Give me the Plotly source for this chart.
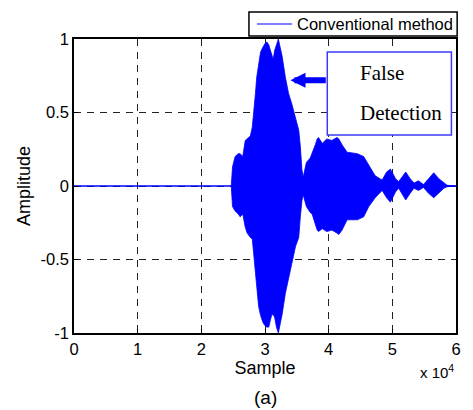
import plotly.graph_objects as go

# Envelope of the signal (sample index, upper / lower amplitude)
samples = [24700, 24900, 25300, 25800, 26100, 26500, 26900, 27200, 27700, 28000,
           28200, 28500, 28700, 29000, 29300, 29500, 29700, 30000, 30300, 30600,
           30800, 31100, 31300, 31500, 31800, 32100, 32400, 32700, 33200, 33700,
           34200, 34800, 35300, 35550, 35800, 36000, 36500, 37100, 37400, 37900,
           38200, 38400, 39000, 39700, 40500, 41300, 41600, 42100, 42900, 44500,
           45500, 46300, 47300, 48400, 49100, 49700, 50500, 51000, 52100, 52800,
           53400, 54100, 54900, 55700, 56500, 57300, 58100, 58600, 59900]
upper = [0.0, 0.13, 0.20, 0.22, 0.22, 0.20, 0.31, 0.32, 0.34, 0.40,
         0.52, 0.63, 0.74, 0.83, 0.91, 0.93, 0.95, 0.97, 0.98, 0.96,
         0.93, 0.89, 0.86, 0.92, 0.96, 1.00, 0.94, 0.88, 0.74, 0.63,
         0.56, 0.47, 0.38, 0.27, 0.11, 0.06, 0.16, 0.19, 0.22, 0.28,
         0.32, 0.33, 0.29, 0.32, 0.31, 0.33, 0.32, 0.28, 0.23, 0.22,
         0.20, 0.14, 0.07, 0.04, 0.095, 0.115, 0.05, 0.03, 0.095, 0.05,
         0.02, 0.035, 0.01, 0.05, 0.09, 0.05, 0.02, 0.005, 0.0]
lower = [0.0, -0.14, -0.17, -0.19, -0.21, -0.19, -0.28, -0.32, -0.35, -0.36,
         -0.45, -0.59, -0.70, -0.82, -0.88, -0.91, -0.93, -0.95, -0.96, -0.96,
         -0.92, -0.87, -0.88, -0.89, -0.96, -1.00, -0.93, -0.87, -0.73, -0.64,
         -0.53, -0.41, -0.35, -0.21, -0.10, -0.06, -0.14, -0.18, -0.19, -0.26,
         -0.30, -0.31, -0.29, -0.31, -0.30, -0.32, -0.33, -0.30, -0.23, -0.23,
         -0.21, -0.14, -0.08, -0.03, -0.08, -0.11, -0.04, -0.015, -0.095, -0.05,
         -0.015, -0.03, -0.01, -0.05, -0.08, -0.05, -0.015, -0.005, 0.0]

baseline_x = [0, 60000]
baseline_y = [0, 0]

x_tickvals = [0, 10000, 20000, 30000, 40000, 50000, 60000]
x_ticktext = ["0", "1", "2", "3", "4", "5", "6"]
y_tickvals = [-1, -0.5, 0, 0.5, 1]
y_ticktext = ["-1", "-0.5", "0", "0.5", "1"]

series_name = "Conventional method"
BLUE = "#0000ff"
FONT = "Liberation Sans, Arial, sans-serif"

fig = go.Figure()
fig.add_trace(go.Scatter(
    x=samples + samples[::-1], y=upper + lower[::-1],
    fill="toself", fillcolor=BLUE, mode="lines",
    line=dict(color=BLUE, width=0.8), showlegend=False, hoverinfo="skip"))
fig.add_trace(go.Scatter(
    x=baseline_x, y=baseline_y, mode="lines", name=series_name,
    line=dict(color=BLUE, width=1.5), showlegend=False))

fig.update_layout(
    width=473, height=410,
    margin=dict(l=74, r=17, t=39, b=77),
    paper_bgcolor="white", plot_bgcolor="white",
    font=dict(family=FONT, size=16, color="black"),
    showlegend=False,
)
fig.update_xaxes(
    range=[0, 60000], tickvals=x_tickvals, ticktext=x_ticktext,
    showgrid=True, gridcolor="#222", griddash="7px,6px", gridwidth=1,
    showline=True, linecolor="black", linewidth=1.5, mirror=True,
    ticks="inside", ticklen=4, tickcolor="black",
    zeroline=False, tickfont=dict(size=16.5),
    title=dict(text="Sample", font=dict(size=18), standoff=4))
fig.update_yaxes(
    range=[-1, 1], tickvals=y_tickvals, ticktext=y_ticktext,
    showgrid=True, gridcolor="#222", griddash="7px,6px", gridwidth=1,
    showline=True, linecolor="black", linewidth=1.5, mirror=True,
    ticks="inside", ticklen=4, tickcolor="black",
    zeroline=False, tickfont=dict(size=16.5),
    title=dict(text="Amplitude", font=dict(size=18), standoff=5))

# Legend box (drawn above the plot, compact like the original)
fig.add_shape(type="rect", xref="paper", yref="paper",
              x0=0.458, x1=1.003, y0=1.010, y1=1.092,
              line=dict(color="black", width=1.5), fillcolor="white", layer="above")
fig.add_shape(type="line", xref="paper", yref="paper",
              x0=0.479, x1=0.571, y0=1.051, y1=1.051,
              line=dict(color=BLUE, width=1.2), layer="above")
fig.add_annotation(x=0.5785, y=1.051, xref="paper", yref="paper", text=series_name,
                   showarrow=False, xanchor="left", yanchor="middle",
                   font=dict(family=FONT, size=16.5, color="black"))

# Box with "False Detection"
fig.add_shape(type="rect", xref="x", yref="y",
              x0=39780, x1=59280, y0=0.347, y1=0.912,
              line=dict(color="#3a3aff", width=1.5), fillcolor="white", layer="above")
fig.add_annotation(x=44650, y=0.769, xref="x", yref="y", text="False",
                   showarrow=False, xanchor="left", yanchor="middle",
                   font=dict(family="Liberation Serif, Times New Roman, serif", size=21, color="black"))
fig.add_annotation(x=44650, y=0.497, xref="x", yref="y", text="Detection",
                   showarrow=False, xanchor="left", yanchor="middle",
                   font=dict(family="Liberation Serif, Times New Roman, serif", size=21, color="black"))
# Arrow pointing at the waveform
fig.add_annotation(x=34000, y=0.72, ax=39780, ay=0.72, xref="x", yref="y",
                   axref="x", ayref="y", text="", showarrow=True,
                   arrowhead=2, arrowsize=0.5, arrowwidth=6, arrowcolor=BLUE, standoff=0)
# x 10^4 multiplier
fig.add_annotation(x=1.0, y=-0.13, xref="paper", yref="paper", text="x 10<sup>4</sup>",
                   showarrow=False, xanchor="right", yanchor="middle",
                   font=dict(family=FONT, size=15, color="black"))
# (a) caption
fig.add_annotation(x=0.5, y=-0.22, xref="paper", yref="paper", text="(a)",
                   showarrow=False, xanchor="center", yanchor="middle",
                   font=dict(family=FONT, size=19, color="black"))

fig.write_html("out.html")
